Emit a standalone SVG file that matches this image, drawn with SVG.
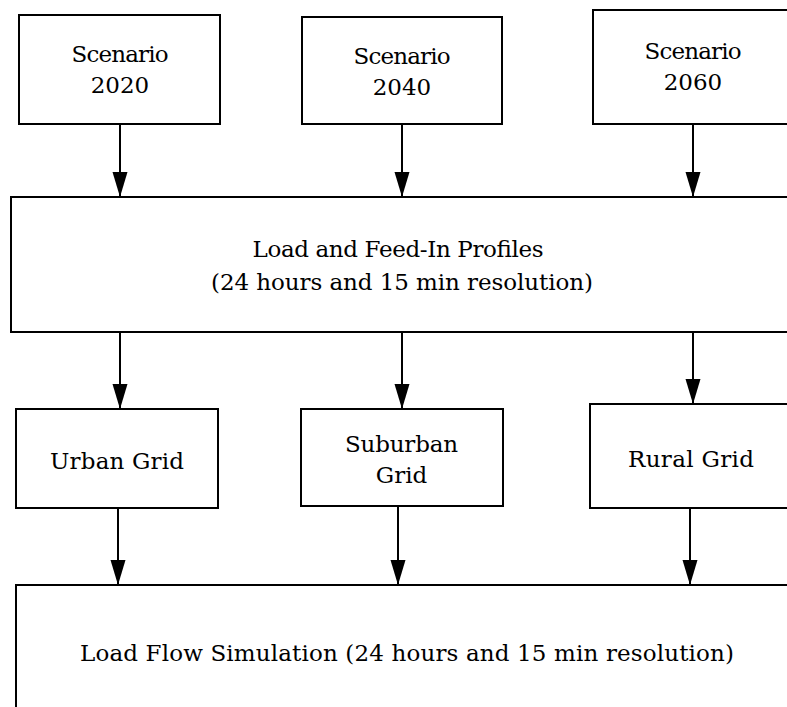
<svg xmlns="http://www.w3.org/2000/svg" width="787" height="707" viewBox="0 0 787 707">
<style>
.box{fill:#fff;stroke:#000;stroke-width:2}
.t{font-family:'DejaVu Serif',serif;font-size:23px;fill:#000;text-anchor:middle}
.c{stroke:#000;stroke-width:2;fill:none}
</style>
<defs>
<marker id="ah" markerUnits="userSpaceOnUse" markerWidth="26" markerHeight="16" refX="25" refY="7.5" orient="auto">
<path d="M0,0 L25,7.5 L0,15 Z" fill="#000"/>
</marker>
</defs>
<rect width="787" height="707" fill="#fff"/>
<g id="s2020"><rect class="box" x="19" y="15" width="201" height="109"/><text class="t" x="120" y="62" textLength="97">Scenario</text><text class="t" x="120" y="93">2020</text></g>
<g id="s2040"><rect class="box" x="302" y="17" width="200" height="107"/><text class="t" x="402" y="64" textLength="97">Scenario</text><text class="t" x="402" y="95">2040</text></g>
<g id="s2060"><rect class="box" x="593" y="10" width="220" height="114"/><text class="t" x="693" y="59" textLength="97">Scenario</text><text class="t" x="693" y="90">2060</text></g>
<g id="profiles"><rect class="box" x="11" y="197" width="800" height="135"/><text class="t" x="398" y="257" textLength="291">Load and Feed-In Profiles</text><text class="t" x="402" y="290" textLength="382">(24 hours and 15 min resolution)</text></g>
<g id="urban"><rect class="box" x="16" y="409" width="202" height="99"/><text class="t" x="117" y="469" textLength="134">Urban Grid</text></g>
<g id="suburban"><rect class="box" x="301" y="409" width="202" height="97"/><text class="t" x="401.5" y="452" textLength="113">Suburban</text><text class="t" x="401.5" y="483">Grid</text></g>
<g id="rural"><rect class="box" x="590" y="404" width="220" height="104"/><text class="t" x="691" y="467" textLength="126">Rural Grid</text></g>
<g id="loadflow"><rect class="box" x="16" y="585" width="800" height="150"/><text class="t" x="407" y="661" textLength="654">Load Flow Simulation (24 hours and 15 min resolution)</text></g>
<g id="connectors">
<path class="c" d="M120,124 V197" marker-end="url(#ah)"/>
<path class="c" d="M402,124 V197" marker-end="url(#ah)"/>
<path class="c" d="M693,124 V197" marker-end="url(#ah)"/>
<path class="c" d="M120,332 V409" marker-end="url(#ah)"/>
<path class="c" d="M402,332 V409" marker-end="url(#ah)"/>
<path class="c" d="M693,332 V404" marker-end="url(#ah)"/>
<path class="c" d="M118,508 V585" marker-end="url(#ah)"/>
<path class="c" d="M398,506 V585" marker-end="url(#ah)"/>
<path class="c" d="M690,508 V585" marker-end="url(#ah)"/>
</g>
</svg>
